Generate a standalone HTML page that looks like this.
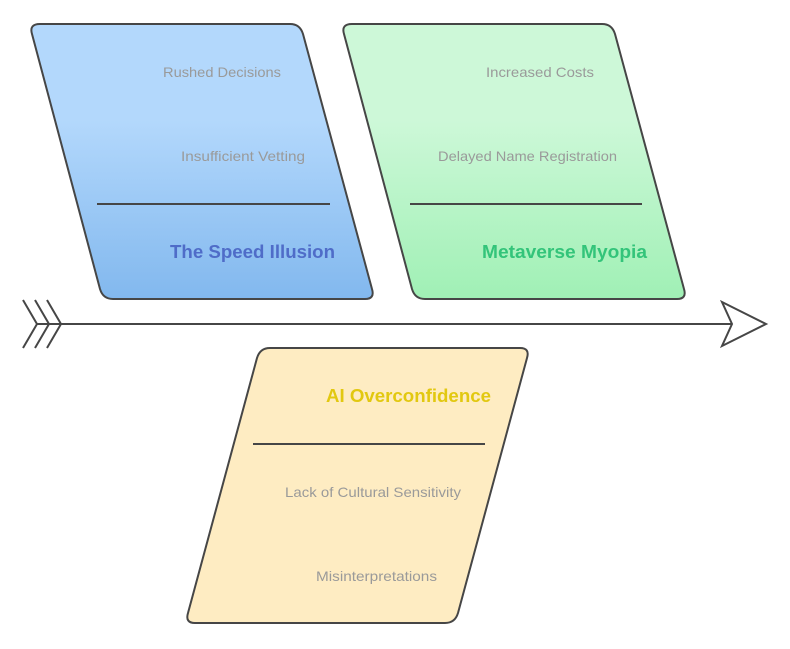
<!DOCTYPE html>
<html><head><meta charset="utf-8"><style>
html,body{margin:0;padding:0;background:#fff;}
svg{display:block;}
text{font-family:"Liberation Sans",sans-serif;}
.it{font-size:14px;fill:#9a9a9a;}
.t{font-size:18px;font-weight:bold;}
</style></head><body>
<svg width="790" height="649" viewBox="0 0 790 649" xmlns="http://www.w3.org/2000/svg">
<defs>
<linearGradient id="gb" x1="0" y1="0" x2="0" y2="1"><stop offset="0" stop-color="#b3d8fc"/><stop offset="0.35" stop-color="#b3d8fc"/><stop offset="1" stop-color="#82b8ee"/></linearGradient>
<linearGradient id="gg" x1="0" y1="0" x2="0" y2="1"><stop offset="0" stop-color="#cdf8d8"/><stop offset="0.35" stop-color="#cdf8d8"/><stop offset="1" stop-color="#a0f0b5"/></linearGradient>
</defs>
<g stroke="#464646" stroke-width="2" stroke-linejoin="round">
<path d="M40,24 L290,24 Q300,24 303,34 L372,289 Q375,299 365,299 L113,299 Q103,299 100,289 L32,34 Q29,24 40,24 Z" fill="url(#gb)"/>
<path d="M352,24 L602,24 Q612,24 615,34 L684,289 Q687,299 677,299 L425,299 Q415,299 412,289 L344,34 Q341,24 352,24 Z" fill="url(#gg)"/>
<path d="M270,348 L520,348 Q530,348 527,358 L458,613 Q455,623 445,623 L195,623 Q185,623 188,613 L257,358 Q260,348 270,348 Z" fill="#feecc2"/>
</g>
<g stroke="#464646" stroke-width="2" fill="none">
<line x1="97" y1="204" x2="330" y2="204"/>
<line x1="410" y1="204" x2="642" y2="204"/>
<line x1="253" y1="444" x2="485" y2="444"/>
<line x1="37" y1="324" x2="732" y2="324"/>
<polyline points="23,300 37,324 23,348"/>
<polyline points="35,300 49,324 35,348"/>
<polyline points="47,300 61,324 47,348"/>
<polygon points="722,302 766,324 722,346 732,324" stroke-linejoin="miter"/>
</g>
<text class="it" x="163" y="77" textLength="118" lengthAdjust="spacingAndGlyphs">Rushed Decisions</text>
<text class="it" x="181" y="161" textLength="124" lengthAdjust="spacingAndGlyphs">Insufficient Vetting</text>
<text class="t" x="170" y="258" fill="#4f6cc8" textLength="165" lengthAdjust="spacingAndGlyphs">The Speed Illusion</text>
<text class="it" x="486" y="77" textLength="108" lengthAdjust="spacingAndGlyphs">Increased Costs</text>
<text class="it" x="438" y="161" textLength="179" lengthAdjust="spacingAndGlyphs">Delayed Name Registration</text>
<text class="t" x="482" y="258" fill="#33c47a" textLength="165" lengthAdjust="spacingAndGlyphs">Metaverse Myopia</text>
<text class="t" x="326" y="402" fill="#e2c810" textLength="165" lengthAdjust="spacingAndGlyphs">AI Overconfidence</text>
<text class="it" x="285" y="497" textLength="176" lengthAdjust="spacingAndGlyphs">Lack of Cultural Sensitivity</text>
<text class="it" x="316" y="581" textLength="121" lengthAdjust="spacingAndGlyphs">Misinterpretations</text>
</svg>
</body></html>
